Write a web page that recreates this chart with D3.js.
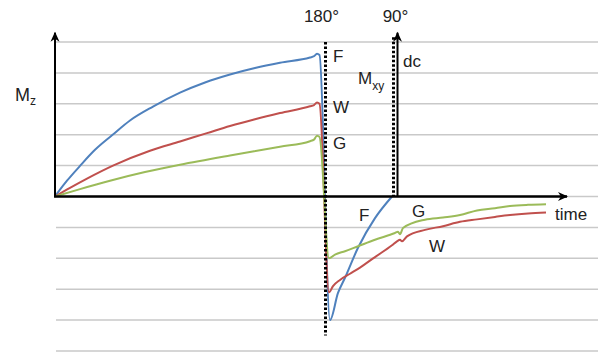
<!DOCTYPE html>
<html>
<head>
<meta charset="utf-8">
<script src="https://d3js.org/d3.v7.min.js"></script>
<style>
  body { margin: 0; background: #fff; }
  svg { display: block; font-family: "Liberation Sans", Arial, Helvetica, sans-serif; }
</style>
</head>
<body>
<div id="chart"></div>
<script>
// time in arbitrary units, magnetisation in grid steps
var timeF = [0, 1, 2.4, 5, 8, 11.4, 15, 19.6, 25, 30, 35, 40, 45, 51, 51.8, 52.4, 52.9, 55, 56.6, 58, 60.6, 64, 67.4];
var mzF   = [0, 0.22, 0.51, 0.99, 1.51, 1.98, 2.46, 2.91, 3.36, 3.69, 3.95, 4.16, 4.33, 4.5, 4.54, 4.62, 4.58, -4.0, -3.12, -2.63, -1.66, -0.7, 0];

var timeW = [0, 3, 6.4, 11.6, 19, 25, 30.4, 35, 40, 45, 51, 51.8, 52.4, 52.9, 54.8, 55.6, 57, 59, 61, 64, 67.4, 68.4, 69, 69.4, 70.4, 74, 77.6, 81, 84.4, 88, 91, 94.6, 98.2];
var mzW   = [0, 0.28, 0.58, 1.0, 1.48, 1.78, 2.05, 2.28, 2.5, 2.7, 2.92, 2.96, 3.04, 3.0, -3.1, -2.9, -2.7, -2.5, -2.3, -1.96, -1.58, -1.45, -1.4, -1.45, -1.29, -1.08, -0.96, -0.82, -0.74, -0.66, -0.6, -0.55, -0.52];

var timeG = [0, 5, 11, 18, 25, 35, 45, 51, 51.8, 52.4, 52.9, 54.8, 56, 58, 60.6, 64, 68, 68.6, 69, 69.6, 74, 77.6, 81, 84.4, 88, 91, 94.6, 98.2];
var mzG   = [0, 0.24, 0.51, 0.79, 1.03, 1.33, 1.61, 1.79, 1.84, 1.97, 1.93, -2.0, -1.88, -1.77, -1.61, -1.4, -1.18, -1.14, -1.22, -1.02, -0.75, -0.68, -0.6, -0.45, -0.38, -0.31, -0.27, -0.25];

var gridValues = [-5, -4, -3, -2, -1, 0, 1, 2, 3, 4, 5];
var pulse180 = 54.1;
var pulse90 = 67.7;
var timeEnd = 102.4;
var mzTop = 5.3;

var series = [
  {name: "F", color: "#4F81BD", t: timeF, v: mzF},
  {name: "W", color: "#C0504D", t: timeW, v: mzW},
  {name: "G", color: "#9BBB59", t: timeG, v: mzG}
];

var width = 598, height = 352;

var svg = d3.select("#chart").append("svg")
    .attr("width", width).attr("height", height);

var x = d3.scaleLinear().domain([0, 100]).range([55, 555]);
var y = d3.scaleLinear().domain([-5, 5]).range([351, 42]);

// grey grid
svg.selectAll(".grid")
    .data(gridValues)
    .enter()
    .append("line")
    .attr("class", "grid")
    .attr("x1", 56).attr("x2", width)
    .attr("y1", function (d) {return y(d);})
    .attr("y2", function (d) {return y(d);})
    .style("stroke", "#c9c9c9")
    .style("stroke-width", 1.5);

var defs = svg.append("defs");
defs.append("marker")
    .attr("id", "arrowUp")
    .attr("viewBox", "0 -5 10 10")
    .attr("refX", 9).attr("refY", 0)
    .attr("orient", "auto")
    .attr("markerUnits", "userSpaceOnUse")
    .attr("markerWidth", 11).attr("markerHeight", 10)
    .append("path")
    .attr("d", "M0,-4.5 L10,0 L0,4.5 L3,0 Z")
    .style("fill", "#000");

// curves
var line = d3.line()
    .x(function (d) {return x(d[0]);})
    .y(function (d) {return y(d[1]);})
    .curve(d3.curveMonotoneX);

svg.selectAll(".curve")
    .data(series)
    .enter()
    .append("path")
    .attr("class", "curve")
    .attr("d", function (s) {return line(d3.zip(s.t, s.v));})
    .style("fill", "none")
    .style("stroke", function (s) {return s.color;})
    .style("stroke-width", 2)
    .style("stroke-linejoin", "round");

// axes
svg.append("line")
    .attr("x1", x(0)).attr("y1", y(0))
    .attr("x2", x(0)).attr("y2", y(mzTop))
    .attr("marker-end", "url(#arrowUp)")
    .style("stroke", "#000").style("stroke-width", 2);

svg.append("line")
    .attr("x1", x(0) - 1).attr("y1", y(0))
    .attr("x2", x(timeEnd)).attr("y2", y(0))
    .attr("marker-end", "url(#arrowUp)")
    .style("stroke", "#000").style("stroke-width", 2.5);

svg.append("line")
    .attr("x1", x(pulse90) + 4).attr("y1", y(0))
    .attr("x2", x(pulse90) + 4).attr("y2", y(mzTop))
    .attr("marker-end", "url(#arrowUp)")
    .style("stroke", "#000").style("stroke-width", 2);

// pulses
svg.append("line")
    .attr("x1", x(pulse180)).attr("y1", y(5))
    .attr("x2", x(pulse180)).attr("y2", y(-4.5))
    .style("stroke", "#000").style("stroke-width", 3)
    .style("stroke-dasharray", "2.5,2");

svg.append("line")
    .attr("x1", x(pulse90)).attr("y1", y(5.15))
    .attr("x2", x(pulse90)).attr("y2", y(0))
    .style("stroke", "#000").style("stroke-width", 3)
    .style("stroke-dasharray", "2.5,2");

// labels
function label(tx, ty, txt, size, anchor) {
  return svg.append("text")
      .attr("x", tx).attr("y", ty)
      .attr("text-anchor", anchor || "start")
      .style("font-size", size + "px")
      .style("fill", "#222")
      .text(txt);
}

label(x(pulse180) - 4, 22, "180°", 17, "middle");
label(x(pulse90) + 2, 22, "90°", 17, "middle");

var mz = label(15, 101, "M", 18);
mz.append("tspan").attr("dy", 4).style("font-size", "12px").text("z");

var mxy = label(358, 84, "M", 17);
mxy.append("tspan").attr("dy", 6).style("font-size", "12px").text("xy");

label(403, 67, "dc", 17);

label(333, 62, "F", 17);
label(333, 113, "W", 17);
label(333, 149, "G", 17);

label(359, 221, "F", 17);
label(412, 217, "G", 17);
label(429, 252, "W", 17);
label(555, 220, "time", 17);
</script>
</body>
</html>
